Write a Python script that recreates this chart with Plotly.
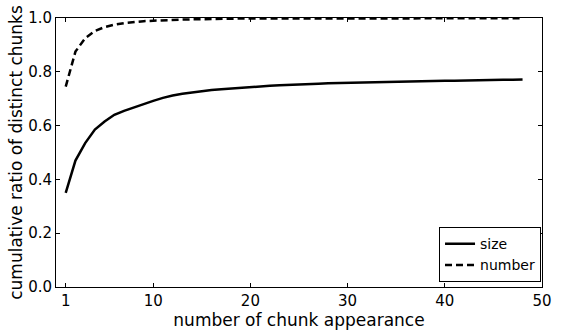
import plotly.graph_objects as go

appearance = list(range(1, 49))
size_ratio = [0.35, 0.47, 0.535, 0.585, 0.615, 0.64, 0.655, 0.668, 0.68, 0.692,
              0.703, 0.712, 0.718, 0.723, 0.728, 0.732, 0.735, 0.738, 0.741, 0.744,
              0.746, 0.748, 0.750, 0.752, 0.754, 0.755, 0.756, 0.757, 0.758, 0.759,
              0.760, 0.761, 0.762, 0.763, 0.764, 0.764, 0.765, 0.765, 0.766, 0.767,
              0.767, 0.768, 0.768, 0.769, 0.769, 0.770, 0.770, 0.771]
number_ratio = [0.745, 0.875, 0.925, 0.952, 0.966, 0.975, 0.981, 0.985, 0.988, 0.990,
                0.992, 0.993, 0.994, 0.995, 0.996, 0.996, 0.997, 0.997, 0.998, 0.998,
                0.998, 0.998, 0.999, 0.999, 0.999, 0.999, 0.999, 0.999, 0.999, 0.999,
                0.999, 0.999, 0.999, 0.999, 0.999, 0.999, 0.999, 0.999, 0.999, 0.999,
                0.999, 0.999, 0.999, 0.999, 0.999, 0.999, 0.999, 0.999]
x_ticks = [1, 10, 20, 30, 40, 50]
y_ticks = [0.0, 0.2, 0.4, 0.6, 0.8, 1.0]

fig = go.Figure()
fig.add_trace(go.Scatter(x=appearance, y=size_ratio, mode="lines", name="size",
                         line=dict(color="black", width=2.5)))
fig.add_trace(go.Scatter(x=appearance, y=number_ratio, mode="lines", name="number",
                         line=dict(color="black", width=2.5, dash="7px,4px")))

font = dict(family="DejaVu Sans", size=14, color="black")
tickfont = dict(family="DejaVu Sans", size=15, color="black")
fig.update_layout(
    width=561, height=332,
    margin=dict(l=56, r=12, t=9, b=43),
    paper_bgcolor="white", plot_bgcolor="white",
    font=font,
    showlegend=True,
    legend=dict(x=0.998, y=0.018, xanchor="right", yanchor="bottom",
                bordercolor="black", borderwidth=1, bgcolor="white",
                font=dict(family="DejaVu Sans", size=14),
                tracegroupgap=0, itemwidth=30),
)
fig.update_xaxes(range=[0, 50], tickvals=x_ticks, ticks="inside", ticklen=4,
                 tickcolor="black", showline=True, linecolor="black", linewidth=1,
                 mirror="ticks", showgrid=False, zeroline=False,
                 title=dict(text="number of chunk appearance", standoff=1),
                 tickfont=tickfont)
fig.update_yaxes(range=[0, 1.0], tickvals=y_ticks, tickformat=".1f", ticks="inside",
                 ticklen=4, tickcolor="black", showline=True, linecolor="black",
                 linewidth=1, mirror="ticks", showgrid=False, zeroline=False,
                 title=dict(text="cumulative ratio of distinct chunks", standoff=1),
                 tickfont=tickfont)

fig.write_html("out.html")
